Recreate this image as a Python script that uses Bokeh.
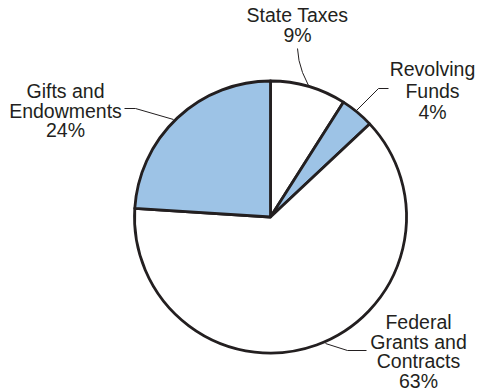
import numpy as np
from bokeh.plotting import figure
from bokeh.models import Range1d, ColumnDataSource
from bokeh.core.properties import value
from bokeh.embed import file_html
from bokeh.resources import INLINE

# ---- data ----
categories = ["State Taxes", "Revolving Funds", "Federal Grants and Contracts", "Gifts and Endowments"]
shares = [9, 4, 63, 24]
label_lines = [["State Taxes", "9%"], ["Revolving", "Funds", "4%"],
               ["Federal", "Grants and", "Contracts", "63%"], ["Gifts and", "Endowments", "24%"]]

# ---- style / layout ----
BLUE = "#9dc3e6"
INK = "#231f20"
fills = ["white", BLUE, "white", BLUE]
W, H = 481, 390

def X(px):
    return px

def Y(py):
    return H - py

cx, cy, R = X(270), Y(216.5), 136

p = figure(width=W, height=H, output_backend="svg", toolbar_location=None,
           x_range=Range1d(0, W), y_range=Range1d(0, H), min_border=0)
p.axis.visible = False
p.grid.visible = False
p.outline_line_color = None
p.background_fill_color = "white"
p.border_fill_color = "white"

frac = np.array(shares, dtype=float) / sum(shares)
cum = np.concatenate([[0], np.cumsum(frac)])
start = np.pi / 2 - cum[:-1] * 2 * np.pi
end = np.pi / 2 - cum[1:] * 2 * np.pi
src = ColumnDataSource(dict(cat=categories, start=start, end=end, fill=fills))
p.wedge(x=cx, y=cy, radius=R, start_angle="start", end_angle="end", direction="clock",
        fill_color="fill", line_color=INK, line_width=2.8, line_join="round", source=src)

# leader lines (pixel positions in the picture)
leaders = [
    [(297, 48), (298.5, 60), (302, 72), (308, 85)],
    [(388, 88), (378, 88), (356, 110)],
    [(366, 350), (347, 350), (325, 343)],
    [(124, 108), (135, 108), (173, 119)],
]
for pts in leaders:
    p.line([X(a) for a, b in pts], [Y(b) for a, b in pts], line_color=INK, line_width=1)

# label anchors: centre x and first baseline, line spacing
anchors = [(297, 14.5, 19.5), (432, 68.5, 21.5), (418, 321.5, 19.5), (65, 90.5, 19.5)]
for lines, (ax, ay, dy) in zip(label_lines, anchors):
    xs = [X(ax)] * len(lines)
    ys = [Y(ay + i * dy) for i in range(len(lines))]
    p.text(x=xs, y=ys, text=lines, text_align="center", text_baseline="alphabetic",
           text_font=value("Liberation Sans"), text_font_size="19.5px", text_color=INK)

open("out.html", "w").write(file_html(p, INLINE))
